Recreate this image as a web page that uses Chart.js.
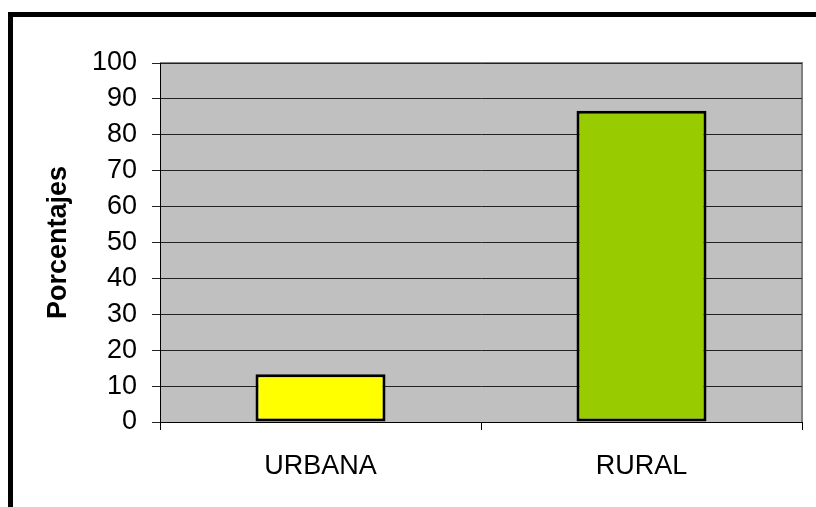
<!DOCTYPE html>
<html>
<head>
<meta charset="utf-8">
<script src="https://cdn.jsdelivr.net/npm/chart.js@4"></script>
<style>
html,body{margin:0;padding:0;background:#fff;}
canvas{display:block;}
</style>
</head>
<body>
<canvas id="c" width="816" height="507"></canvas>
<script>
const categories = ['URBANA', 'RURAL'];
const values = [13.3, 86.7];
const barColors = ['#FFFF00', '#99CC00'];
const yTicks = [0, 10, 20, 30, 40, 50, 60, 70, 80, 90, 100];
const yTitle = 'Porcentajes';

const frame = {
  id: 'frame',
  beforeDraw(chart) {
    const ctx = chart.ctx;
    const a = chart.chartArea;
    ctx.save();
    ctx.fillStyle = '#ffffff';
    ctx.fillRect(0, 0, chart.width, chart.height);
    ctx.fillStyle = '#000000';
    ctx.fillRect(8, 12, chart.width - 8, 5);
    ctx.fillRect(8, 12, 5, chart.height - 12);
    ctx.fillStyle = '#C0C0C0';
    ctx.fillRect(a.left, a.top, a.right - a.left, a.bottom - a.top);
    ctx.strokeStyle = '#808080';
    ctx.lineWidth = 2;
    ctx.beginPath();
    ctx.moveTo(a.left, a.top);
    ctx.lineTo(a.right, a.top);
    ctx.lineTo(a.right, a.bottom);
    ctx.stroke();
    ctx.restore();
  }
};

new Chart(document.getElementById('c'), {
  type: 'bar',
  data: {
    labels: categories,
    datasets: [{
      data: values,
      backgroundColor: barColors,
      borderColor: '#000000',
      borderWidth: 3,
      borderSkipped: false,
      barPercentage: 0.405,
      categoryPercentage: 1.0
    }]
  },
  options: {
    responsive: false,
    animation: false,
    devicePixelRatio: 1,
    layout: { padding: { left: 0, top: 63, right: 14, bottom: 0 } },
    plugins: { legend: { display: false }, tooltip: { enabled: false } },
    scales: {
      x: {
        offset: true,
        grid: { display: true, drawOnChartArea: false, drawTicks: true, tickLength: 8, offset: true, color: '#000000', lineWidth: 1 },
        border: { display: true, color: '#000000', width: 1 },
        ticks: { color: '#000000', padding: 20, font: { family: 'Liberation Sans, Arial, sans-serif', size: 27 } },
        afterFit(s) { s.height = 85; }
      },
      y: {
        min: 0,
        max: 100,
        afterBuildTicks(s) { s.ticks = yTicks.map(v => ({ value: v })); },
        grid: { display: true, drawOnChartArea: true, drawTicks: true, tickLength: 8, color: '#222222', lineWidth: 1 },
        border: { display: true, color: '#000000', width: 1 },
        ticks: { color: '#000000', padding: 15, font: { family: 'Liberation Sans, Arial, sans-serif', size: 27 } },
        title: {
          display: true,
          text: yTitle,
          color: '#000000',
          padding: { top: 42, bottom: 0 },
          font: { family: 'Liberation Sans, Arial, sans-serif', size: 27, weight: 'bold' }
        },
        afterFit(s) { s.width = 160; }
      }
    }
  },
  plugins: [frame]
});
</script>
</body>
</html>
